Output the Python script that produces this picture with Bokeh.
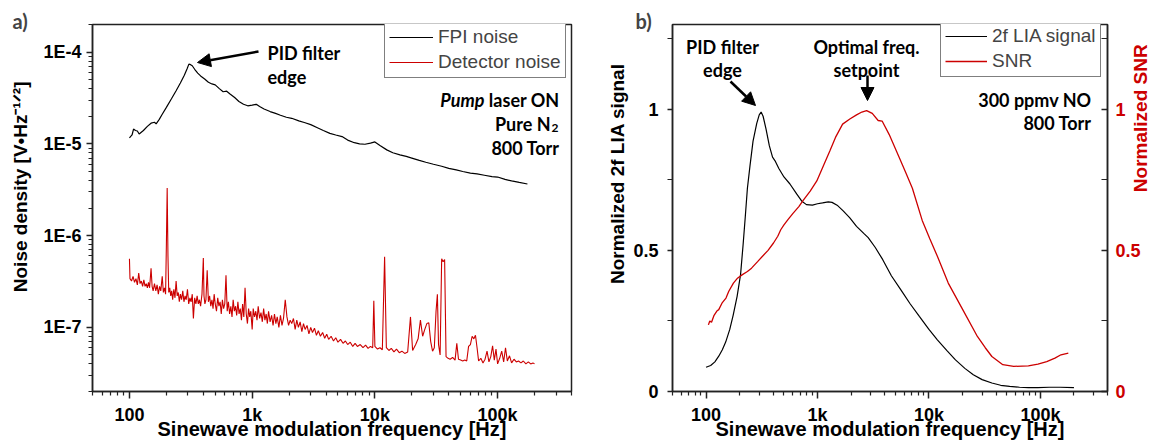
from math import pi
from bokeh.plotting import figure
from bokeh.models import (FixedTicker, CustomJSTickFormatter, Label, Arrow, NormalHead,
                          Legend, LegendItem, LinearAxis, Range1d, Title)
from bokeh.layouts import row
from bokeh.embed import file_html
from bokeh.resources import INLINE

# ---------------- Panel a data ----------------
fpi_f = [100, 105, 108, 112, 116, 120, 130, 140, 150, 160, 165, 175, 185, 200, 220, 240, 260, 280,
         295, 305, 315, 325, 340, 360, 380, 410, 440, 470, 500, 540, 580, 620, 660, 720, 780, 850,
         920, 1000, 1080, 1150, 1250, 1400, 1550, 1700, 1900, 2100, 2400, 2700, 3000, 3400, 3800,
         4300, 4800, 5400, 6000, 6800, 7500, 8300, 9200, 10000, 11000, 12500, 14000, 16000, 18000,
         20000, 23000, 26000, 30000, 35000, 40000, 46000, 52000, 60000, 68000, 78000, 90000,
         100000, 115000, 130000, 150000, 175000]
fpi_v = [1.16e-5, 1.25e-5, 1.45e-5, 1.40e-5, 1.38e-5, 1.28e-5, 1.40e-5, 1.55e-5, 1.68e-5, 1.72e-5,
         1.65e-5, 1.85e-5, 2.1e-5, 2.5e-5, 3.1e-5, 3.8e-5, 4.6e-5, 5.6e-5, 6.6e-5, 7.4e-5, 7.3e-5,
         7.1e-5, 6.5e-5, 5.9e-5, 5.5e-5, 5.1e-5, 4.7e-5, 4.5e-5, 4.4e-5, 4.0e-5, 3.7e-5, 3.75e-5,
         3.5e-5, 3.2e-5, 2.9e-5, 2.7e-5, 2.6e-5, 2.65e-5, 2.7e-5, 2.55e-5, 2.4e-5, 2.25e-5, 2.15e-5,
         2.05e-5, 1.95e-5, 1.9e-5, 1.78e-5, 1.7e-5, 1.62e-5, 1.5e-5, 1.4e-5, 1.3e-5, 1.25e-5, 1.2e-5,
         1.1e-5, 1.03e-5, 1.0e-5, 9.9e-6, 1.02e-5, 1.05e-5, 9.6e-6, 8.6e-6, 8.0e-6, 7.6e-6, 7.3e-6,
         7.0e-6, 6.6e-6, 6.3e-6, 6.0e-6, 5.7e-6, 5.4e-6, 5.2e-6, 5.0e-6, 4.8e-6, 4.7e-6, 4.55e-6,
         4.4e-6, 4.35e-6, 4.1e-6, 3.95e-6, 3.8e-6, 3.65e-6]

det_f = [100, 101, 104, 107, 110, 113, 116, 119, 122, 125, 128, 131, 134, 137, 140, 143, 146, 150,
         153, 156, 160, 164, 168, 172, 176, 180, 185, 189, 193, 197, 200, 203, 206, 209, 213, 217,
         221, 225, 230, 235, 240, 245, 250, 255, 260, 266, 272, 278, 284, 290, 297, 304, 311, 318,
         325, 332, 340, 348, 356, 364, 372, 380, 390, 400, 405, 412, 420, 430, 440, 450, 460, 470,
         480, 490, 500, 512, 524, 536, 548, 560, 572, 585, 598, 612, 626, 640, 655, 670, 685, 700,
         716, 732, 748, 765, 782, 800, 818, 836, 855, 875, 895, 915, 935, 955, 975, 1000, 1020,
         1045, 1070, 1095, 1120, 1150, 1180, 1210, 1240, 1270, 1300, 1330, 1360, 1400, 1440, 1480,
         1520, 1560, 1600, 1650, 1700, 1750, 1800, 1860, 1920, 1980, 2040, 2100, 2170, 2240, 2310,
         2380, 2460, 2540, 2620, 2700, 2800, 2900, 3000, 3100, 3220, 3340, 3460, 3600, 3750, 3900,
         4050, 4200, 4400, 4600, 4800, 5000, 5250, 5500, 5750, 6000, 6300, 6600, 6900, 7200, 7600,
         8000, 8400, 8800, 9200, 9600, 9800, 10000, 10500, 11000, 11500, 12000, 12400, 13000,
         13600, 14300, 15000, 15800, 16600, 17500, 18500, 19500, 20300, 21500, 22500, 23500,
         24500, 25500, 26500, 27500, 28500, 29500, 30500, 31500, 32300, 33000, 34000, 35000,
         36000, 37000, 38000, 39500, 41000, 43000, 45000, 46500, 48000, 50000, 52000, 54000,
         56000, 58000, 60000, 62000, 64000, 66000, 68000, 70000, 73000, 76000, 79000, 82000,
         85000, 88000, 91000, 94000, 97000, 100000, 104000, 108000, 112000, 116000, 120000,
         125000, 130000, 136000, 142000, 148000, 155000, 162000, 170000, 178000, 186000, 194000,
         200000]
det_v = [5.6e-7, 3.4e-7, 3.2e-7, 3.6e-7, 3.1e-7, 3.4e-7, 2.9e-7, 3.9e-7, 3.0e-7, 3.2e-7, 2.8e-7,
         3.3e-7, 2.8e-7, 3.0e-7, 2.7e-7, 3.1e-7, 2.7e-7, 4.4e-7, 2.8e-7, 2.5e-7, 3.0e-7, 2.5e-7,
         2.9e-7, 2.3e-7, 2.8e-7, 2.5e-7, 3.6e-7, 2.4e-7, 2.7e-7, 2.3e-7, 8.0e-7, 3.3e-6, 6.0e-7,
         2.4e-7, 2.7e-7, 2.2e-7, 2.5e-7, 2.0e-7, 2.6e-7, 2.1e-7, 3.2e-7, 2.2e-7, 2.4e-7, 1.9e-7,
         2.3e-7, 2.0e-7, 2.5e-7, 1.9e-7, 2.2e-7, 2.0e-7, 2.6e-7, 1.8e-7, 2.1e-7, 1.9e-7, 2.3e-7,
         1.25e-7, 2.1e-7, 1.8e-7, 2.2e-7, 1.8e-7, 2.0e-7, 1.7e-7, 2.3e-7, 5.7e-7, 2.2e-7, 1.8e-7,
         2.0e-7, 4.2e-7, 1.9e-7, 2.2e-7, 1.7e-7, 2.0e-7, 1.6e-7, 2.3e-7, 1.8e-7, 1.5e-7, 2.1e-7,
         1.7e-7, 1.9e-7, 1.4e-7, 2.0e-7, 1.6e-7, 1.8e-7, 3.7e-7, 1.5e-7, 1.9e-7, 1.4e-7, 1.7e-7,
         1.3e-7, 2.0e-7, 1.5e-7, 1.7e-7, 1.35e-7, 1.9e-7, 1.4e-7, 1.6e-7, 1.2e-7, 1.8e-7, 1.3e-7,
         2.7e-7, 1.4e-7, 1.1e-7, 1.6e-7, 1.3e-7, 1.5e-7, 9.5e-8, 1.6e-7, 1.3e-7, 1.5e-7, 1.2e-7,
         1.7e-7, 1.25e-7, 1.45e-7, 1.15e-7, 1.6e-7, 1.2e-7, 1.4e-7, 1.1e-7, 1.5e-7, 1.15e-7,
         1.35e-7, 1.05e-7, 1.4e-7, 1.1e-7, 1.3e-7, 1.0e-7, 1.35e-7, 1.05e-7, 1.25e-7, 2.0e-7,
         1.3e-7, 1.05e-7, 1.2e-7, 1.1e-7, 1.25e-7, 9.5e-8, 1.2e-7, 1.0e-7, 1.15e-7, 9.0e-8, 1.1e-7,
         9.5e-8, 1.05e-7, 8.5e-8, 1.0e-7, 8.8e-8, 9.8e-8, 8.2e-8, 9.2e-8, 8.0e-8, 8.8e-8, 7.6e-8,
         8.4e-8, 7.4e-8, 8.0e-8, 7.1e-8, 7.7e-8, 6.9e-8, 7.4e-8, 6.7e-8, 7.1e-8, 6.5e-8, 6.9e-8,
         6.2e-8, 6.7e-8, 6.2e-8, 6.5e-8, 6.0e-8, 6.4e-8, 5.9e-8, 6.2e-8, 6.0e-8, 1.95e-7, 6.2e-8,
         5.8e-8, 6.0e-8, 5.7e-8, 5.9e-7, 6.0e-8, 5.6e-8, 5.9e-8, 5.4e-8, 5.8e-8, 5.3e-8, 5.5e-8,
         5.2e-8, 5.4e-8, 1.3e-7, 5.6e-8, 6.5e-8, 7.5e-8, 1.2e-7, 8.0e-8, 9.5e-8, 1.1e-7, 1.12e-7,
         7.0e-8, 5.5e-8, 6.0e-8, 1.5e-7, 2.3e-7, 6.5e-8, 5.0e-8, 5.6e-7, 5.2e-7, 5.5e-7, 4.8e-8,
         4.6e-8, 4.5e-8, 4.7e-8, 4.4e-8, 6.7e-8, 4.5e-8, 4.4e-8, 4.3e-8, 4.4e-8, 4.3e-8, 6.2e-8,
         6.5e-8, 8.0e-8, 7.5e-8, 8.2e-8, 6.0e-8, 4.3e-8, 4.6e-8, 4.1e-8, 4.5e-8, 5.5e-8, 4.2e-8,
         4.8e-8, 6.3e-8, 4.4e-8, 5.8e-8, 4.0e-8, 4.6e-8, 5.5e-8, 4.2e-8, 6.0e-8, 4.3e-8, 4.9e-8,
         4.1e-8, 4.5e-8, 4.2e-8, 4.3e-8, 4.1e-8, 4.3e-8, 4.0e-8, 4.2e-8, 4.0e-8, 4.1e-8, 4.0e-8]

# ---------------- Panel b data ----------------
lia_f = [100, 110, 120, 130, 140, 150, 163, 175, 190, 204, 215, 225, 235, 248, 264, 285, 300, 312,
         325, 345, 370, 395, 416, 450, 500, 566, 650, 720, 795, 900, 1000, 1110, 1250, 1350, 1500,
         1700, 1950, 2240, 2600, 2850, 3300, 3850, 4600, 5600, 6800, 8200, 10000, 11900, 14500,
         17300, 21000, 25000, 30000, 36700, 44000, 53000, 65000, 78000, 95000, 120000, 150000,
         200000]
lia_v = [0.086, 0.092, 0.105, 0.125, 0.148, 0.175, 0.219, 0.27, 0.337, 0.414, 0.52, 0.62, 0.72,
         0.80, 0.887, 0.95, 0.98, 0.99, 0.975, 0.93, 0.87, 0.83, 0.817, 0.79, 0.76, 0.735, 0.70,
         0.675, 0.662, 0.66, 0.665, 0.668, 0.672, 0.67, 0.66, 0.64, 0.615, 0.585, 0.56, 0.545,
         0.51, 0.467, 0.41, 0.36, 0.31, 0.266, 0.22, 0.183, 0.145, 0.112, 0.082, 0.059, 0.042,
         0.03, 0.022, 0.018, 0.015, 0.014, 0.014, 0.015, 0.015, 0.014]

snr_f = [105, 108, 112, 118, 125, 130, 140, 151, 160, 176, 190, 212, 235, 256, 290, 321, 360, 403,
         440, 468, 500, 543, 600, 680, 741, 860, 986, 1130, 1290, 1450, 1680, 1950, 2240, 2500,
         2760, 3100, 3500, 3800, 4400, 5400, 6200, 7100, 8700, 10200, 11900, 14900, 20100, 27200,
         32000, 36700, 46000, 57600, 78000, 95000, 114000, 135000, 153000, 178000]
snr_v = [0.236, 0.25, 0.245, 0.27, 0.285, 0.29, 0.315, 0.331, 0.355, 0.384, 0.40, 0.414, 0.425,
         0.437, 0.46, 0.479, 0.50, 0.526, 0.55, 0.573, 0.59, 0.609, 0.63, 0.655, 0.676, 0.71,
         0.746, 0.80, 0.852, 0.90, 0.947, 0.965, 0.98, 0.99, 0.995, 0.985, 0.96, 0.958, 0.91,
         0.83, 0.775, 0.72, 0.606, 0.54, 0.479, 0.384, 0.29, 0.195, 0.155, 0.124, 0.095, 0.089,
         0.091, 0.097, 0.106, 0.118, 0.13, 0.136]

x_major = [100, 1000, 10000, 100000]
x_minor = [m * 10 ** e for e in range(1, 6) for m in range(2, 10) if 50 <= m * 10 ** e <= 400000]
ya_major = [1e-7, 1e-6, 1e-5, 1e-4]
ya_minor = [m * 10.0 ** e for e in range(-8, -3) for m in range(2, 10)]
yb_major = [0, 0.5, 1]
yb_minor = [0.25, 0.75, 1.25]

x_title = "Sinewave modulation frequency [Hz]"
ya_title = "Noise density [V\u2022Hz\u207b\u00b9\u141f\u00b2]"
yb_title = "Normalized 2f LIA signal"
yr_title = "Normalized SNR"

RED = "#cc0000"
AX = "#222222"
TICKFONT = "Liberation Sans"
ANNFONT = "Lato"
NB = "\u00a0"

xfmt = CustomJSTickFormatter(code="""
if (tick >= 1000) { return (tick/1000).toFixed(0) + "k"; }
return tick.toFixed(0);
""")
yfmt_log = CustomJSTickFormatter(code="""
return "1E" + Math.round(Math.log10(tick));
""")
yfmt_lin = CustomJSTickFormatter(code="return tick.toString();")


def style_axis(ax, out_=6, minor_out=4, in_=0, minor_in=0, standoff=6, color="black",
               label=None, label_size="20px", label_standoff=0, label_color="black"):
    ax.axis_line_color = AX
    ax.axis_line_width = 1.5
    ax.major_tick_line_color = AX
    ax.major_tick_line_width = 1.5
    ax.minor_tick_line_color = AX
    ax.minor_tick_line_width = 1.2
    ax.major_tick_out = out_
    ax.major_tick_in = in_
    ax.minor_tick_out = minor_out
    ax.minor_tick_in = minor_in
    ax.major_label_standoff = standoff
    ax.major_label_text_font = TICKFONT
    ax.major_label_text_font_style = "bold"
    ax.major_label_text_font_size = "18px"
    ax.major_label_text_color = color
    if label is not None:
        ax.axis_label = label
        ax.axis_label_text_font = TICKFONT
        ax.axis_label_text_font_style = "bold"
        ax.axis_label_text_font_size = label_size
        ax.axis_label_text_color = label_color
        ax.axis_label_standoff = label_standoff


def make_fig(width, left, right, y_type, y_range, tag, tag_offset):
    title = Title(text=tag, align="left", offset=tag_offset, standoff=-16,
                  text_font=ANNFONT, text_font_size="20px", text_font_style="bold")
    p = figure(width=width, height=442, x_axis_type="log", y_axis_type=y_type,
               x_range=(50, 4e5), y_range=y_range, output_backend="svg", title=title,
               toolbar_location=None, min_border_left=left, min_border_right=right,
               min_border_top=24, min_border_bottom=50)
    p.xgrid.grid_line_color = None
    p.ygrid.grid_line_color = None
    p.outline_line_color = AX
    p.outline_line_width = 1.5
    p.background_fill_color = "white"
    p.border_fill_color = "white"
    p.xaxis.ticker = FixedTicker(ticks=x_major, minor_ticks=x_minor)
    p.xaxis.formatter = xfmt
    style_axis(p.xaxis[0], out_=7, minor_out=4, standoff=6, label=x_title,
               label_size="20px", label_standoff=-10)
    return p


def add_label(p, x0, ybot, X, Y, text, size="18px", font=ANNFONT, style="bold",
              align="left", baseline="alphabetic", color="black", angle=0):
    p.add_layout(Label(x=X - x0, y=ybot - Y, x_units="screen", y_units="screen", text=text,
                       text_font=font, text_font_size=size, text_font_style=style,
                       text_align=align, text_baseline=baseline, text_color=color,
                       angle=angle))


def add_arrow(p, x0, ybot, X1, Y1, X2, Y2):
    p.add_layout(Arrow(end=NormalHead(size=13, fill_color="black", line_color="black",
                                      line_width=1),
                       x_start=X1 - x0, y_start=ybot - Y1, x_end=X2 - x0, y_end=ybot - Y2,
                       start_units="screen", end_units="screen",
                       line_color="black", line_width=2.5))


# ---------------- Panel a ----------------
pa = make_fig(590, 92, 19, "log", (2e-8, 2e-4), "a)", -80)
pa.yaxis.ticker = FixedTicker(ticks=ya_major, minor_ticks=ya_minor)
pa.yaxis.formatter = yfmt_log
style_axis(pa.yaxis[0], out_=6, minor_out=4, standoff=5, label=NB * 8 + ya_title,
           label_size="19px", label_standoff=9)

r_fpi = pa.line(fpi_f, fpi_v, line_color="black", line_width=1.2)
r_det = pa.line(det_f, det_v, line_color=RED, line_width=1.1)

leg_a = Legend(items=[LegendItem(label="FPI noise", renderers=[r_fpi]),
                      LegendItem(label="Detector noise", renderers=[r_det])],
               location=(292, 313), margin=0, padding=4, spacing=3,
               glyph_width=44, glyph_height=20, label_height=20, label_standoff=5,
               label_text_font=TICKFONT, label_text_font_size="19px",
               border_line_color="black", border_line_width=1.5, background_fill_alpha=1)
pa.add_layout(leg_a)

XA, YB = 92, 392
add_label(pa, XA, YB, 267, 53, "PID filter")
add_label(pa, XA, YB, 267, 77, "edge")
add_arrow(pa, XA, YB, 258, 52, 197, 63)
add_label(pa, XA, YB, 484, 100, "Pump", style="bold italic", align="right")
add_label(pa, XA, YB, 559, 100, "laser ON", align="right")
add_label(pa, XA, YB, 550, 124, "Pure N", align="right")
add_label(pa, XA, YB, 551, 128, "2", size="12px")
add_label(pa, XA, YB, 559, 148, "800 Torr", align="right")

# ---------------- Panel b ----------------
pb = make_fig(574, 82, 55, "linear", (0, 1.3), "b)", -37)
pb.yaxis.ticker = FixedTicker(ticks=yb_major, minor_ticks=yb_minor)
pb.yaxis.formatter = yfmt_lin
style_axis(pb.yaxis[0], out_=5, minor_out=5, standoff=9, label=NB * 13 + yb_title,
           label_size="19px", label_standoff=2)

pb.extra_y_ranges = {"snr": Range1d(0, 1.3)}
rax = LinearAxis(y_range_name="snr", ticker=FixedTicker(ticks=yb_major, minor_ticks=yb_minor),
                 formatter=yfmt_lin)
style_axis(rax, out_=0, minor_out=0, in_=6, minor_in=6, standoff=8, color=RED,
           label=NB * 3 + yr_title, label_size="19px", label_standoff=-3, label_color=RED)
try:
    rax.axis_label_orientation = pi / 2
except Exception:
    pass
pb.add_layout(rax, "right")

r_lia = pb.line(lia_f, lia_v, line_color="black", line_width=1.2)
r_snr = pb.line(snr_f, snr_v, line_color=RED, line_width=1.3)

leg_b = Legend(items=[LegendItem(label="2f LIA signal", renderers=[r_lia]),
                      LegendItem(label="SNR", renderers=[r_snr])],
               location=(268, 314), margin=0, padding=4, spacing=3,
               glyph_width=42, glyph_height=20, label_height=20, label_standoff=5,
               label_text_font=TICKFONT, label_text_font_size="19px",
               border_line_color="black", border_line_width=1.5, background_fill_alpha=1)
pb.add_layout(leg_b)

XB = 672
add_label(pb, XB, YB, 722, 47, "PID filter", align="center")
add_label(pb, XB, YB, 722, 70, "edge", align="center")
add_arrow(pb, XB, YB, 730, 82, 755, 106)
add_label(pb, XB, YB, 866, 47, "Optimal freq.", align="center")
add_label(pb, XB, YB, 866, 70, "setpoint", align="center")
add_arrow(pb, XB, YB, 867, 76, 867, 101)
add_label(pb, XB, YB, 1091, 100, "300 ppmv NO", align="right")
add_label(pb, XB, YB, 1091, 123, "800 Torr", align="right")

layout = row(pa, pb)
open("out.html", "w").write(file_html(layout, INLINE))
